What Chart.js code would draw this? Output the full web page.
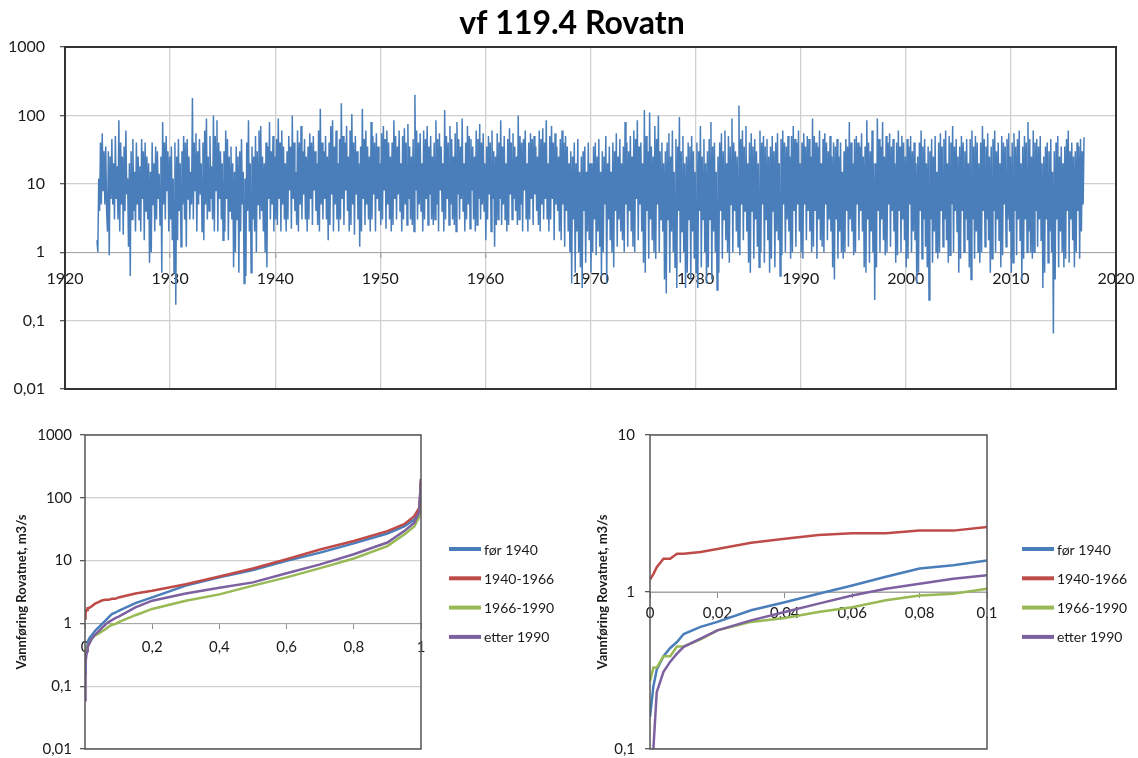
<!doctype html>
<html>
<head>
<meta charset="UTF-8">
<script src="https://cdn.jsdelivr.net/npm/chart.js"></script>
<style>
  html, body { margin: 0; padding: 0; background: #fff; overflow: hidden; }
  canvas { position: absolute; }
  #series { left: 0px; top: 0px; }
  #duration { left: 0px; top: 420px; }
  #durationZoom { left: 580px; top: 420px; }
</style>
</head>
<body>
<canvas id="series" width="1144" height="400"></canvas>
<canvas id="duration" width="560" height="342"></canvas>
<canvas id="durationZoom" width="558" height="342"></canvas>

<script>
// ---- data: flow at Rovatn, 12 readings per year, m3/s ----
const firstYear = 1923;
const flowByYear = [
  [1.5, 1.0, 12, 4, 40, 5, 55, 8, 30, 5, 35, 4],        // 1923
  [2, 30, 0.9, 25, 6, 45, 5, 20, 3, 50, 6, 18],
  [3, 85, 2, 40, 5, 25, 1.8, 35, 4, 60, 7, 12],
  [1.2, 20, 0.45, 30, 3, 45, 4, 15, 2, 40, 5, 25],
  [3, 18, 2, 45, 6, 30, 1.5, 40, 4, 25, 3, 20],
  [0.7, 15, 1, 40, 5, 20, 2, 35, 3, 30, 6, 14],
  [2.5, 25, 0.5, 80, 5, 40, 3, 50, 8, 30, 2, 25],
  [3, 35, 1.5, 12, 0.5, 40, 0.17, 25, 1.5, 45, 4, 20],  // 1930
  [1.2, 30, 5, 50, 3, 40, 1.2, 45, 6, 25, 3, 15],
  [5, 180, 3, 40, 8, 55, 2, 30, 5, 45, 7, 20],
  [2, 40, 1.5, 60, 5, 90, 3, 25, 4, 50, 6, 18],
  [3, 100, 2, 50, 8, 85, 2, 40, 6, 30, 3, 20],
  [1.5, 30, 2, 60, 6, 45, 1.5, 25, 4, 35, 3, 20],
  [0.6, 15, 1, 35, 3, 25, 0.5, 30, 2, 45, 5, 15],
  [0.35, 12, 0.45, 40, 4, 85, 2, 20, 0.5, 35, 3, 25],
  [2, 50, 1, 30, 5, 60, 3, 70, 4, 25, 2, 20],
  [1, 40, 0.6, 35, 6, 80, 3, 30, 5, 50, 2, 25],
  [3, 45, 2.5, 90, 6, 40, 2, 60, 5, 35, 3, 20],         // 1940
  [2, 30, 3, 50, 8, 35, 2.2, 100, 6, 40, 4, 15],
  [2.5, 60, 2, 40, 5, 70, 3, 30, 7, 45, 3, 25],
  [2, 35, 3, 55, 6, 40, 2.5, 50, 8, 30, 4, 20],
  [2.5, 60, 2, 125, 5, 40, 3, 30, 6, 50, 3, 25],
  [1.5, 40, 2.5, 70, 7, 85, 2, 35, 5, 60, 3, 20],
  [2, 45, 3, 150, 6, 50, 2.5, 40, 8, 70, 4, 25],
  [2, 60, 2.5, 105, 5, 40, 1.8, 50, 7, 30, 3, 20],
  [1.2, 35, 2, 125, 6, 45, 2.5, 60, 5, 35, 3, 25],
  [2, 80, 3, 50, 7, 40, 2, 55, 6, 35, 4, 20],
  [2.5, 55, 3, 70, 8, 45, 2.2, 60, 5, 40, 3, 25],       // 1950
  [2, 40, 2.5, 85, 6, 50, 3, 35, 7, 60, 4, 20],
  [2, 50, 3, 65, 5, 40, 2.5, 75, 6, 35, 3, 25],
  [2.5, 45, 2, 200, 8, 60, 3, 40, 5, 55, 4, 20],
  [2, 60, 3, 45, 6, 70, 2.5, 35, 7, 50, 3, 25],
  [2.5, 40, 3, 85, 5, 45, 2, 55, 8, 35, 4, 20],
  [2, 120, 3, 50, 6, 40, 2.5, 70, 5, 45, 3, 25],
  [2.5, 55, 2, 80, 7, 45, 3, 35, 6, 90, 4, 20],
  [2, 40, 3, 70, 5, 50, 2.2, 45, 8, 35, 3, 25],
  [2, 60, 2.5, 45, 6, 75, 3, 40, 5, 55, 4, 20],
  [1.5, 35, 3, 50, 7, 40, 2, 60, 6, 30, 1.2, 25],       // 1960
  [2.5, 55, 3, 40, 6, 85, 2.5, 35, 5, 50, 3, 20],
  [2, 45, 2.5, 65, 7, 40, 3, 55, 6, 35, 4, 25],
  [2.5, 100, 3, 50, 5, 40, 2, 45, 8, 60, 3, 20],
  [2, 40, 3, 55, 6, 45, 2.5, 50, 7, 35, 4, 25],
  [2.5, 60, 2, 45, 5, 65, 3, 40, 6, 85, 3, 20],
  [2, 50, 3, 70, 6, 40, 1.5, 55, 5, 35, 4, 25],
  [2, 45, 1.5, 60, 5, 40, 1.2, 50, 4, 35, 2, 20],
  [1, 30, 0.35, 25, 3, 40, 0.5, 20, 2, 45, 1, 15],
  [0.6, 25, 0.3, 30, 4, 35, 0.7, 15, 2, 40, 1.5, 20],
  [0.5, 20, 1, 35, 3, 40, 0.9, 25, 2, 45, 1.2, 15],     // 1970
  [0.45, 30, 1, 25, 5, 50, 0.35, 20, 3, 35, 1.5, 15],
  [1, 40, 0.6, 30, 4, 55, 1.2, 25, 3, 45, 2, 20],
  [1.5, 35, 1, 80, 5, 40, 1.2, 30, 4, 50, 2, 25],
  [1.2, 60, 1, 45, 6, 85, 1.5, 35, 5, 40, 2, 20],
  [0.7, 120, 0.5, 50, 4, 30, 0.8, 110, 3, 35, 1.5, 25],
  [1, 70, 0.8, 45, 5, 100, 1, 30, 3, 40, 2, 20],
  [0.4, 30, 0.25, 40, 3, 55, 0.5, 25, 2, 60, 1, 15],
  [0.6, 45, 0.3, 35, 4, 95, 0.7, 30, 2, 50, 1, 20],
  [0.3, 25, 0.5, 40, 3, 35, 0.4, 50, 2, 30, 0.8, 15],
  [0.5, 40, 0.3, 30, 4, 70, 0.6, 25, 3, 45, 1, 20],     // 1980
  [0.35, 30, 0.6, 45, 3, 80, 0.4, 35, 2, 40, 1, 15],
  [0.28, 25, 0.5, 40, 4, 55, 0.8, 30, 3, 60, 1.5, 20],
  [1, 50, 0.7, 35, 5, 90, 1, 40, 4, 30, 2, 25],
  [1.2, 140, 0.9, 45, 5, 60, 1.5, 35, 4, 70, 2, 20],
  [0.7, 40, 0.5, 55, 4, 35, 0.8, 45, 3, 30, 1.2, 20],
  [0.6, 60, 1, 40, 5, 50, 0.7, 35, 3, 45, 1.5, 25],
  [0.5, 35, 0.8, 50, 4, 30, 0.6, 40, 2, 55, 1.5, 20],
  [0.45, 45, 0.9, 60, 5, 40, 1, 35, 3, 50, 2, 25],
  [0.8, 50, 1, 70, 4, 45, 1.2, 40, 5, 60, 2, 20],
  [1, 40, 0.8, 55, 5, 35, 1.5, 50, 4, 45, 2, 25],       // 1990
  [1, 90, 1.2, 50, 4, 40, 0.8, 35, 3, 60, 1.5, 20],
  [1.2, 45, 1, 55, 5, 40, 1.5, 30, 3, 50, 2, 25],
  [0.6, 40, 0.4, 35, 3, 45, 0.8, 25, 2, 40, 1, 15],
  [0.8, 30, 1, 45, 4, 35, 1.2, 80, 3, 40, 2, 20],
  [0.9, 45, 1, 50, 5, 40, 1.5, 35, 4, 55, 2, 25],
  [0.6, 35, 0.5, 85, 3, 40, 0.7, 30, 2, 60, 1, 20],
  [0.2, 20, 0.6, 90, 4, 45, 1, 35, 3, 80, 1.5, 25],
  [0.9, 50, 1, 40, 5, 55, 1.2, 35, 4, 45, 2, 20],
  [0.7, 40, 0.9, 60, 4, 35, 1, 50, 3, 40, 1.5, 25],
  [0.6, 45, 0.8, 35, 5, 50, 1, 30, 2, 40, 1.5, 20],     // 2000
  [0.35, 25, 0.5, 40, 4, 60, 0.8, 35, 3, 45, 1.2, 20],
  [0.6, 35, 0.2, 30, 3, 45, 0.7, 25, 2, 50, 1, 15],
  [0.8, 40, 1, 55, 4, 35, 1.2, 45, 3, 60, 1.5, 20],
  [0.7, 50, 0.9, 40, 5, 70, 1, 35, 4, 45, 2, 25],
  [0.5, 35, 0.8, 50, 4, 40, 1, 30, 3, 45, 1.5, 20],
  [0.6, 45, 0.4, 60, 3, 35, 0.8, 50, 2, 40, 1, 20],
  [0.7, 40, 1, 70, 4, 45, 1.2, 35, 3, 55, 1.5, 25],
  [0.5, 35, 0.8, 45, 4, 60, 1, 30, 3, 40, 1.5, 20],
  [0.6, 50, 0.9, 40, 5, 35, 1.2, 45, 3, 55, 2, 25],
  [0.5, 40, 0.7, 55, 4, 35, 0.9, 45, 3, 60, 1.5, 20],   // 2010
  [0.4, 35, 0.8, 50, 3, 40, 1, 80, 2, 45, 1, 25],
  [0.8, 60, 1, 40, 4, 45, 1.2, 35, 3, 50, 1.5, 20],
  [0.3, 25, 0.5, 35, 3, 40, 0.7, 30, 2, 45, 1, 15],
  [0.065, 30, 0.4, 40, 3, 50, 0.6, 25, 2, 35, 1, 20],
  [0.6, 35, 0.8, 45, 4, 60, 0.7, 30, 3, 40, 1.5, 25],
  [0.6, 30, 1, 40, 4, 35, 0.8, 45, 2, 30, 5, 48]        // 2016
];
const yearTicks = [1920, 1930, 1940, 1950, 1960, 1970, 1980, 1990, 2000, 2010, 2020];
const seriesYTicks = [0.01, 0.1, 1, 10, 100, 1000];

// ---- duration curves: share of time (x) vs flow (m3/s) ----
const shareOfTime = [0, 0.001, 0.002, 0.004, 0.006, 0.008, 0.01, 0.015, 0.02, 0.03, 0.04, 0.05, 0.06, 0.07, 0.08, 0.09, 0.1,
  0.15, 0.2, 0.3, 0.4, 0.5, 0.6, 0.7, 0.8, 0.9, 0.95, 0.98, 0.995, 1];
const before1940 = [0.16, 0.25, 0.32, 0.39, 0.44, 0.48, 0.54, 0.6, 0.645, 0.765, 0.86, 0.975, 1.1, 1.25, 1.41, 1.48, 1.59,
  2.1, 2.6, 4.0, 5.4, 7.1, 9.9, 13.4, 18.8, 27, 35, 45, 60, 180];
const from1940to1966 = [1.2, 1.3, 1.44, 1.63, 1.63, 1.75, 1.75, 1.8, 1.88, 2.06, 2.18, 2.31, 2.37, 2.37, 2.46, 2.46, 2.59,
  3.0, 3.3, 4.2, 5.6, 7.5, 10.5, 15, 20.5, 29.5, 38, 51, 70, 200];
const from1966to1990 = [0.27, 0.33, 0.33, 0.39, 0.39, 0.45, 0.45, 0.5, 0.57, 0.645, 0.684, 0.746, 0.8, 0.885, 0.95, 0.975, 1.05,
  1.35, 1.7, 2.3, 2.9, 4.0, 5.4, 7.6, 10.8, 17, 26, 35, 50, 140];
const after1990 = [0.06, 0.1, 0.23, 0.31, 0.36, 0.405, 0.447, 0.505, 0.57, 0.66, 0.746, 0.843, 0.95, 1.05, 1.13, 1.215, 1.28,
  1.8, 2.3, 3.0, 3.7, 4.5, 6.3, 8.7, 12.6, 19.4, 29.5, 40, 60, 200];
const seriesNames = ['før 1940', '1940-1966', '1966-1990', 'etter 1990'];

const durationXTicks = [0, 0.2, 0.4, 0.6, 0.8, 1];
const durationXLabels = ['0', '0,2', '0,4', '0,6', '0,8', '1'];
const durationYTicks = [0.01, 0.1, 1, 10, 100, 1000];
const zoomXTicks = [0, 0.02, 0.04, 0.06, 0.08, 0.1];
const zoomXLabels = ['0', '0,02', '0,04', '0,06', '0,08', '0,1'];
const zoomYTicks = [0.1, 1, 10];

// ---- helpers ----
Chart.defaults.font.family = 'Lato, "Open Sans", sans-serif';
Chart.defaults.color = '#1a1a1a';

const comma = v => String(v).replace('.', ',');

const plotFrame = {
  id: 'plotFrame',
  afterDatasetsDraw(chart, args, opts) {
    const a = chart.chartArea, ctx = chart.ctx;
    ctx.save();
    ctx.strokeStyle = opts.color || '#404040';
    ctx.lineWidth = opts.width || 1.5;
    ctx.strokeRect(a.left, a.top, a.right - a.left, a.bottom - a.top);
    ctx.restore();
  }
};

const lineLegend = {
  id: 'lineLegend',
  afterDraw(chart, args, opts) {
    if (opts.x === undefined) return;
    const ctx = chart.ctx;
    ctx.save();
    ctx.font = '14px Lato';
    ctx.textBaseline = 'middle';
    chart.data.datasets.forEach((ds, i) => {
      const y = opts.y + i * opts.step;
      ctx.strokeStyle = ds.borderColor;
      ctx.lineWidth = 4;
      ctx.beginPath();
      ctx.moveTo(opts.x, y);
      ctx.lineTo(opts.x + 32, y);
      ctx.stroke();
      ctx.fillStyle = '#1a1a1a';
      ctx.fillText(ds.label, opts.x + 35, y + 1);
    });
    ctx.restore();
  }
};

const colors = ['#4a7ebb', '#be4b48', '#98b954', '#7d60a0'];

// ---- time series ----
const seriesPoints = [];
flowByYear.forEach((row, k) => row.forEach((v, m) => seriesPoints.push({x: firstYear + k + (m + 0.5) / 12, y: v})));

new Chart(document.getElementById('series'), {
  type: 'line',
  data: {
    datasets: [{
      data: seriesPoints,
      borderColor: '#4a7ebb',
      borderWidth: 1.5,
      pointRadius: 0,
      tension: 0
    }]
  },
  options: {
    responsive: false,
    animation: false,
    layout: { padding: { left: 0, right: 0, top: 0, bottom: 11 } },
    plugins: {
      legend: { display: false },
      tooltip: { enabled: false },
      title: {
        display: true,
        text: 'vf 119.4 Rovatn',
        color: '#000',
        font: { size: 32, weight: 'bold' },
        padding: { top: 4, bottom: 4.6 }
      },
      plotFrame: { color: '#333', width: 2 }
    },
    scales: {
      x: {
        type: 'linear',
        position: { y: 1 },
        min: 1920, max: 2020,
        afterBuildTicks: s => { s.ticks = yearTicks.map(v => ({ value: v })); },
        // keep the axis out of the layout; reserve the right margin here so the title stays centred on the page
        afterFit: s => { s.height = 0; s.paddingLeft = 0; s.paddingRight = 28; },
        ticks: { autoSkip: false, maxRotation: 0, padding: 12, font: { size: 16 }, callback: (v, i) => String(yearTicks[i]) },
        grid: { color: '#d0d0d0', lineWidth: 1.3, tickColor: '#a0a0a0', tickLength: 5 },
        border: { color: '#a6a6a6', width: 1 }
      },
      y: {
        type: 'logarithmic',
        min: 0.01, max: 1000,
        afterBuildTicks: s => { s.ticks = seriesYTicks.map(v => ({ value: v })); },
        afterFit: s => { s.width = 65; s.paddingTop = 0; s.paddingBottom = 0; },
        ticks: { autoSkip: false, padding: 15, font: { size: 16 }, callback: v => comma(v) },
        grid: { color: '#d0d0d0', lineWidth: 1.3, tickColor: '#595959', tickLength: 5 },
        border: { display: false }
      }
    }
  },
  plugins: [plotFrame]
});

// ---- duration curves ----
function curveSets() {
  return [before1940, from1940to1966, from1966to1990, after1990].map((vals, i) => ({
    label: seriesNames[i],
    data: shareOfTime.map((x, j) => ({ x: x, y: vals[j] })),
    borderColor: colors[i],
    backgroundColor: colors[i],
    borderWidth: 2.5,
    pointRadius: 0,
    tension: 0,
    order: 3 - i
  }));
}

function durationChart(id, cfg) {
  return new Chart(document.getElementById(id), {
    type: 'line',
    data: { datasets: curveSets() },
    options: {
      responsive: false,
      animation: false,
      layout: { padding: cfg.padding },
      plugins: {
        legend: { display: false },
        tooltip: { enabled: false },
        plotFrame: { color: '#555', width: 1.5 },
        lineLegend: cfg.legend
      },
      scales: {
        x: {
          type: 'linear',
          position: { y: 1 },
          min: cfg.xTicks[0], max: cfg.xTicks[cfg.xTicks.length - 1],
          afterBuildTicks: s => { s.ticks = cfg.xTicks.map(v => ({ value: v })); },
          afterFit: s => { s.height = 0; s.paddingLeft = 0; s.paddingRight = 0; },
          ticks: { autoSkip: false, maxRotation: 0, padding: cfg.xPad, font: { size: 15 }, callback: (v, i) => cfg.xLabels[i] },
          grid: { drawOnChartArea: false, tickColor: '#8c8c8c', tickLength: 5 },
          border: { color: '#a6a6a6', width: 1 }
        },
        y: {
          type: 'logarithmic',
          min: cfg.yTicks[0], max: cfg.yTicks[cfg.yTicks.length - 1],
          afterBuildTicks: s => { s.ticks = cfg.yTicks.map(v => ({ value: v })); },
          afterFit: s => { s.width = cfg.yWidth; s.paddingTop = 0; s.paddingBottom = 0; },
          ticks: { autoSkip: false, padding: cfg.yPad, font: { size: 15 }, callback: v => comma(v) },
          grid: { color: '#cfcfcf', lineWidth: 1.3, tickColor: '#595959', tickLength: 5 },
          border: { display: false },
          title: {
            display: true,
            text: 'Vannføring Rovatnet, m3/s',
            color: '#1a1a1a',
            font: { size: 13, weight: 'bold' },
            padding: { top: 4, bottom: 4 }
          }
        }
      }
    },
    plugins: [plotFrame, lineLegend]
  });
}

durationChart('duration', {
  padding: { left: 10, right: 139, top: 15, bottom: 13 },
  yWidth: 75, yPad: 8, xPad: 10,
  xTicks: durationXTicks, xLabels: durationXLabels, yTicks: durationYTicks,
  legend: { x: 449, y: 129, step: 29.3 }
});

durationChart('durationZoom', {
  padding: { left: 11, right: 151, top: 15, bottom: 13 },
  yWidth: 59, yPad: 10, xPad: 7,
  xTicks: zoomXTicks, xLabels: zoomXLabels, yTicks: zoomYTicks,
  legend: { x: 442, y: 129, step: 29.3 }
});
</script>
</body>
</html>
